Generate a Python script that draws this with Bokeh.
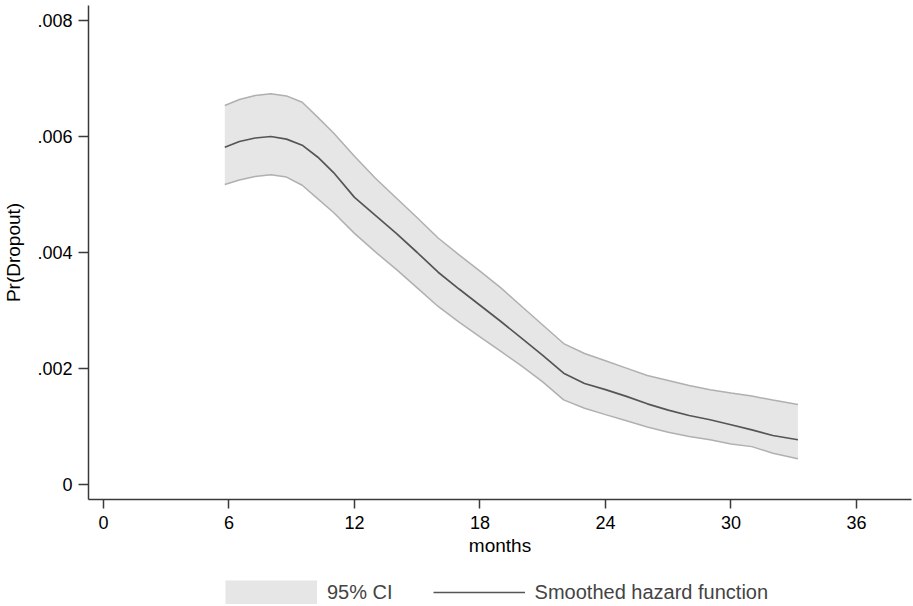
from bokeh.plotting import figure
from bokeh.layouts import column
from bokeh.models import Range1d, FixedTicker, Legend, LegendItem
from bokeh.embed import file_html
from bokeh.resources import INLINE

# ---- data ----
months = [5.8, 6.5, 7.25, 8, 8.75, 9.5, 10.25, 11, 12, 13, 14, 15, 16, 17, 18,
          19, 20, 21, 22, 23, 24, 25, 26, 27, 28, 29, 30, 31, 32, 33.2]
hazard = [.005815, .005914, .005974, .006000, .005955, .005850, .005643, .005379,
          .004950, .004640, .004330, .004000, .003660, .003370, .003090, .002810,
          .002520, .002225, .001920, .001741, .001636, .001519, .001391, .001283,
          .001190, .001117, .001031, .000941, .000845, .000771]
upper = [.006534, .006638, .006707, .006736, .006700, .006590, .006330, .006060,
         .005660, .005280, .004940, .004600, .004250, .003960, .003680, .003390,
         .003070, .002750, .002430, .002259, .002133, .002007, .001879, .001793,
         .001707, .001634, .001578, .001524, .001455, .001379]
lower = [.005172, .005250, .005310, .005340, .005300, .005160, .004924, .004690,
         .004330, .004010, .003710, .003390, .003070, .002800, .002545, .002295,
         .002040, .001770, .001460, .001314, .001205, .001098, .000990, .000902,
         .000829, .000771, .000700, .000653, .000540, .000443]

x_ticks = [0, 6, 12, 18, 24, 30, 36]
y_ticks = [0, 0.002, 0.004, 0.006, 0.008]
y_tick_labels = ["0", ".002", ".004", ".006", ".008"]
x_title = "months"
y_title = "Pr(Dropout)"
legend_labels = ["95% CI", "Smoothed hazard function"]

FONT = "Liberation Sans"
BAND = "#e6e6e6"
EDGE = "#b0b0b0"
LINE = "#555555"

# ---- main chart ----
p = figure(width=913, height=564,
           min_border_left=87, min_border_right=2, min_border_top=5, min_border_bottom=65,
           output_backend="svg", toolbar_location=None,
           x_range=Range1d(-0.716, 38.63), y_range=Range1d(-0.0002586, 0.0082586))
p.outline_line_color = None
p.xgrid.grid_line_color = None
p.ygrid.grid_line_color = None
p.background_fill_color = "white"
p.border_fill_color = "white"

p.varea(x=months, y1=lower, y2=upper, fill_color=BAND)
p.line(months, upper, line_color=EDGE, line_width=1.5)
p.line(months, lower, line_color=EDGE, line_width=1.5)
p.line(months, hazard, line_color=LINE, line_width=1.7)

for ax in (p.xaxis[0], p.yaxis[0]):
    ax.axis_line_color = "#3a3a3a"
    ax.axis_line_width = 1.5
    ax.major_tick_line_color = "#3a3a3a"
    ax.major_tick_line_width = 1.5
    ax.major_tick_in = 0
    ax.minor_tick_line_color = None
    ax.major_label_text_font = FONT
    ax.major_label_text_font_size = "18px"
    ax.major_label_text_color = "black"
    ax.axis_label_text_font = FONT
    ax.axis_label_text_font_size = "19px"
    ax.axis_label_text_font_style = "normal"
    ax.axis_label_text_color = "black"

p.xaxis[0].ticker = FixedTicker(ticks=x_ticks)
p.xaxis[0].major_tick_out = 9
p.xaxis[0].major_label_standoff = 7
p.xaxis[0].axis_label = x_title
p.xaxis[0].axis_label_standoff = 3

p.yaxis[0].ticker = FixedTicker(ticks=y_ticks)
p.yaxis[0].major_label_overrides = {t: l for t, l in zip(y_ticks, y_tick_labels)}
p.yaxis[0].major_label_orientation = "horizontal"
p.yaxis[0].major_tick_out = 10
p.yaxis[0].major_label_standoff = 6
p.yaxis[0].axis_label = y_title
p.yaxis[0].axis_label_standoff = 10

# ---- legend strip below the chart ----
lf = figure(width=913, height=42, min_border=0, output_backend="svg", toolbar_location=None,
            x_axis_location=None, y_axis_location=None,
            x_range=Range1d(-2, -1), y_range=Range1d(0, 1))
lf.outline_line_color = None
lf.xgrid.grid_line_color = None
lf.ygrid.grid_line_color = None
lf.border_fill_color = "white"
ci_key = lf.line(months, upper, line_color=BAND, line_width=24, line_cap="butt")
hz_key = lf.line(months, hazard, line_color=LINE, line_width=1.7)

leg = Legend(items=[LegendItem(label=legend_labels[0], renderers=[ci_key]),
                    LegendItem(label=legend_labels[1], renderers=[hz_key])],
             orientation="horizontal", location=(137, 2),
             glyph_width=92, glyph_height=24, label_height=24,
             label_standoff=10, padding=0, margin=0, spacing=40,
             border_line_color=None, background_fill_alpha=0,
             label_text_font=FONT, label_text_font_size="20px")
lf.add_layout(leg, "center")

open("out.html", "w").write(file_html(column(p, lf, spacing=0), INLINE))
